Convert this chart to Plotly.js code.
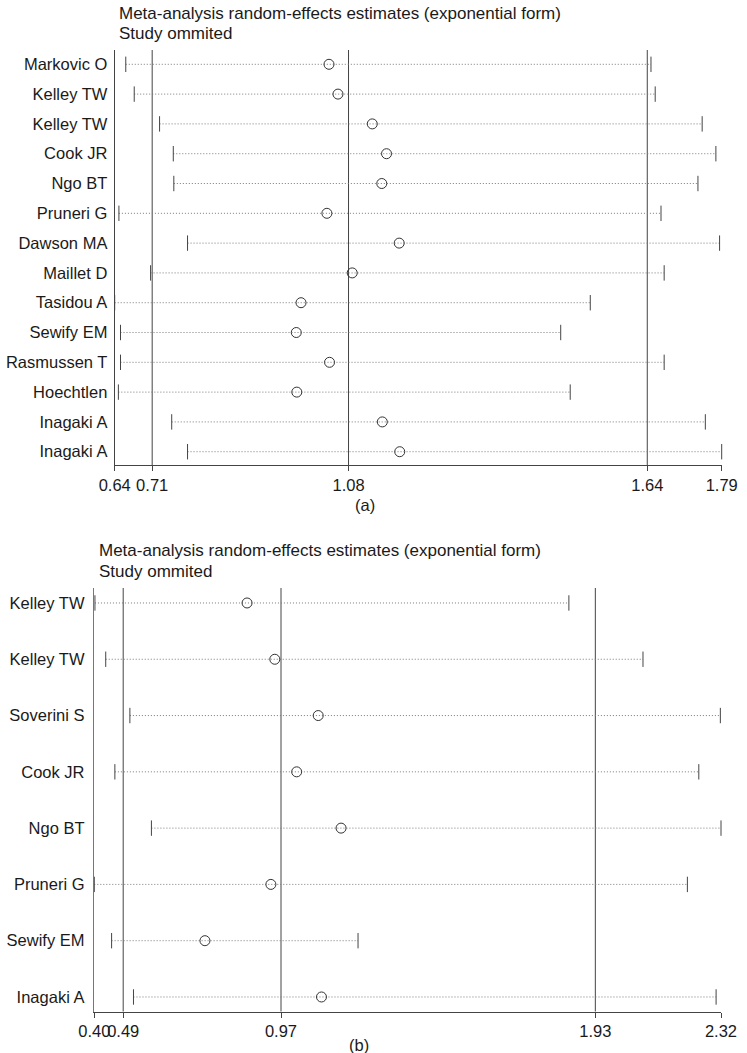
<!DOCTYPE html>
<html><head><meta charset="utf-8">
<script src="https://cdn.plot.ly/plotly-3.0.1.min.js"></script>
<style>html,body{margin:0;padding:0;background:#fff;} #chart{width:747px;height:1053px;}</style>
</head><body><div id="chart"></div>
<script>
// ---------- Panel (a) ----------
const studiesA = ["Markovic O","Kelley TW","Kelley TW","Cook JR","Ngo BT","Pruneri G","Dawson MA","Maillet D","Tasidou A","Sewify EM","Rasmussen T","Hoechtlen","Inagaki A","Inagaki A"];
const estA   = [1.041, 1.058, 1.123, 1.150, 1.141, 1.037, 1.174, 1.085, 0.988, 0.979, 1.042, 0.980, 1.142, 1.175];
const lowerA = [0.656, 0.672, 0.720, 0.746, 0.747, 0.643, 0.773, 0.703, 0.635, 0.646, 0.646, 0.642, 0.743, 0.773];
const upperA = [1.651, 1.659, 1.748, 1.774, 1.740, 1.670, 1.781, 1.676, 1.536, 1.480, 1.676, 1.498, 1.754, 1.785];
const overallA = [0.706, 1.078, 1.644];           // overall CI lower, estimate, CI upper
const tickTextA = ["0.64","0.71","1.08","1.64","1.79"];

// ---------- Panel (b) ----------
const studiesB = ["Kelley TW","Kelley TW","Soverini S","Cook JR","Ngo BT","Pruneri G","Sewify EM","Inagaki A"];
const estB   = [0.866, 0.951, 1.084, 1.018, 1.154, 0.939, 0.737, 1.094];
const lowerB = [0.400, 0.433, 0.507, 0.461, 0.573, 0.398, 0.451, 0.518];
const upperB = [1.852, 2.079, 2.316, 2.250, 2.318, 2.215, 1.206, 2.303];
const overallB = [0.4865, 0.970, 1.933];
const tickTextB = ["0.40","0.49","0.97","1.93","2.32"];

const titleLine1 = "Meta-analysis random-effects estimates (exponential form)";
const titleLine2 = "Study ommited";

const FONT = "Liberation Sans, Arial, Helvetica, sans-serif";
const TXT = "#1a1a1a";
const W = 747, H = 1053;
const px = v => v / W;
const py = v => 1 - v / H;

function panelTraces(studies, lower, est, upper, xa, ya) {
  const idx = studies.map((_, i) => i);
  const lx = [], ly = [];
  lower.forEach((lo, i) => { lx.push(lo, upper[i], null); ly.push(i, i, null); });
  return [
    {type:"scatter", mode:"lines", x:lx, y:ly, xaxis:xa, yaxis:ya, hoverinfo:"skip", cliponaxis:false,
     line:{color:"#7a7a7a", width:1, dash:"1px,2px"}},
    {type:"scatter", mode:"markers", x:lower.concat(upper), y:idx.concat(idx), xaxis:xa, yaxis:ya, cliponaxis:false,
     marker:{symbol:"line-ns-open", size:11, color:"#444", line:{color:"#444", width:1}}},
    {type:"scatter", mode:"markers", x:est, y:idx, xaxis:xa, yaxis:ya, cliponaxis:false,
     marker:{symbol:"circle-open", size:10, color:"#333", line:{color:"#333", width:1}}}
  ];
}

const data = [].concat(
  panelTraces(studiesA, lowerA, estA, upperA, "x", "y"),
  panelTraces(studiesB, lowerB, estB, upperB, "x2", "y2")
);

const minA = Math.min(...lowerA), maxA = Math.max(...upperA);
const minB = Math.min(...lowerB), maxB = Math.max(...upperB);

function xAxis(min, max, overall, texts, anchor, domain) {
  return {
    domain: domain, anchor: anchor, range: [min, max], fixedrange: true,
    tickmode: "array", tickvals: [min].concat(overall, [max]), ticktext: texts, tickangle: 0,
    ticks: "outside", ticklen: 5, tickwidth: 1, tickcolor: "#444",
    showline: true, linecolor: "#444", linewidth: 1,
    showgrid: false, zeroline: false,
    tickfont: {family: FONT, size: 16.5, color: TXT}
  };
}
function yAxis(names, lo, hi, anchor, domain, standoff, lineColor, lineWidth) {
  return {
    domain: domain, anchor: anchor, range: [hi, lo], fixedrange: true,
    tickmode: "array", tickvals: names.map((_, i) => i), ticktext: names,
    ticks: "", ticklabelstandoff: standoff,
    showline: true, linecolor: lineColor, linewidth: lineWidth,
    showgrid: false, zeroline: false,
    tickfont: {family: FONT, size: 16.5, color: TXT}
  };
}

const shapes = [];
overallA.forEach(v => shapes.push({type:"line", xref:"x", yref:"y domain", x0:v, x1:v, y0:0, y1:1, layer:"below", line:{color:"#444", width:1}}));
overallB.forEach(v => shapes.push({type:"line", xref:"x2", yref:"y2 domain", x0:v, x1:v, y0:0, y1:1, layer:"below", line:{color:"#444", width:1}}));

function ann(text, x, y, xanchor, size) {
  return {text: text, xref:"paper", yref:"paper", x: px(x), y: py(y), xanchor: xanchor, yanchor:"middle",
          showarrow:false, font:{family: FONT, size: size, color: TXT}};
}

const layout = {
  width: W, height: H, margin: {l:0, r:0, t:0, b:0},
  paper_bgcolor: "#fff", plot_bgcolor: "#fff", showlegend: false,
  font: {family: FONT, size: 16, color: TXT},
  xaxis:  xAxis(minA, maxA, overallA, tickTextA, "y",  [px(114.7), px(721.7)]),
  yaxis:  yAxis(studiesA, -0.48, 13.446, "x", [py(465), py(50)], 3, "#444", 1),
  xaxis2: xAxis(minB, maxB, overallB, tickTextB, "y2", [px(94.3), px(721)]),
  yaxis2: yAxis(studiesB, -0.266, 7.258, "x2", [py(1011.5), py(588)], 5, "#777", 1.5),
  shapes: shapes,
  annotations: [
    ann(titleLine1, 117, 13, "left", 17),
    ann(titleLine2, 117, 33.5, "left", 17),
    ann("(a)", 365, 505, "center", 16.5),
    ann(titleLine1, 97, 550.5, "left", 17),
    ann(titleLine2, 97, 571.5, "left", 17),
    ann("(b)", 359, 1045, "center", 16.5)
  ]
};

Plotly.newPlot("chart", data, layout, {displayModeBar: false, staticPlot: true});
</script>
</body></html>
